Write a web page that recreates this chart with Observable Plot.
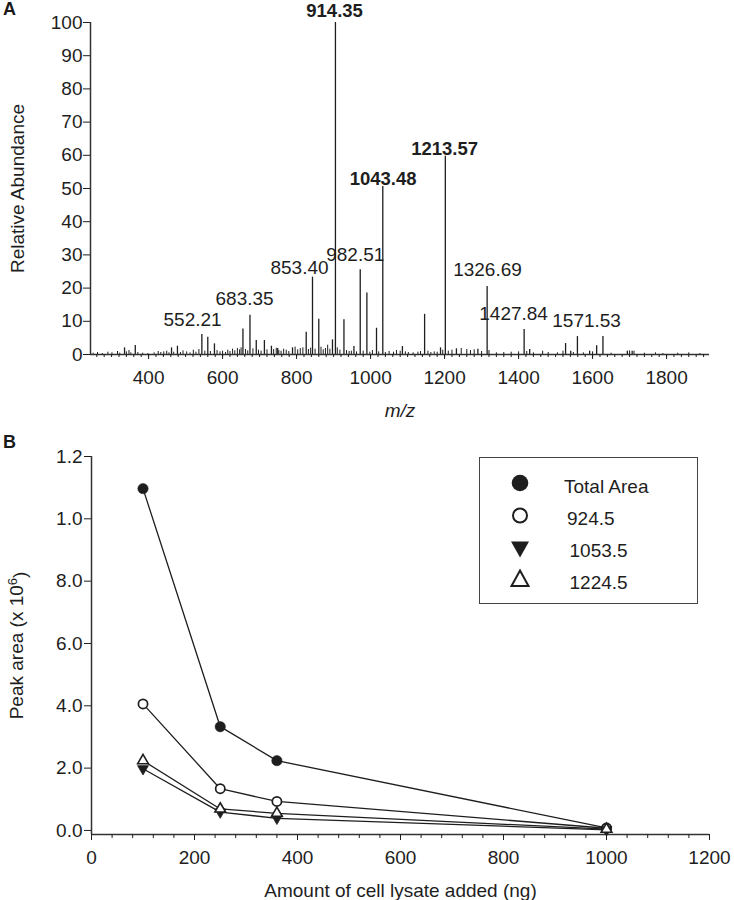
<!DOCTYPE html>
<html>
<head>
<meta charset="utf-8">
<script src="https://cdn.jsdelivr.net/npm/d3@7"></script>
<script src="https://cdn.jsdelivr.net/npm/@observablehq/plot@0.6"></script>
<style>
  body { margin: 0; background: #fff; }
  #wrap { position: relative; width: 734px; height: 900px; font-family: "Liberation Sans", Arial, Helvetica, sans-serif; color: #1a1a1a; overflow: hidden; }
  .tag { position: absolute; font-weight: bold; font-size: 18px; line-height: 1; }
  #legend { position: absolute; left: 479px; top: 457px; width: 219px; height: 147px; box-sizing: border-box; border: 1.5px solid #444; background: #fff; }
  #legend svg { display: block; }
</style>
</head>
<body>
<div id="wrap">
  <div class="tag" style="left:3px;top:0px;">A</div>
  <div class="tag" style="left:3px;top:433px;">B</div>
  <div id="legend"></div>
</div>
<script>
// ---------- Panel A: mass spectrum ----------
const peakMz = [335, 364, 462, 478, 544, 560, 578, 655, 674, 691, 713, 732, 749, 789, 826, 843, 860, 897, 905, 928, 955, 972, 990, 1016, 1033, 1086, 1146, 1189, 1202, 1232, 1290, 1315, 1415, 1430, 1527, 1541, 1559, 1592, 1611, 1628, 1694, 1707];
const peakAbundance = [2.0, 2.7, 2.0, 2.5, 6.0, 5.2, 3.2, 7.7, 11.8, 4.2, 4.2, 2.5, 1.8, 2.0, 6.7, 23.3, 10.6, 4.4, 100, 10.5, 2.4, 25.5, 18.5, 7.9, 50.6, 2.4, 12.1, 2.0, 59.7, 1.7, 1.6, 20.5, 7.5, 1.5, 3.3, 1.0, 5.4, 1.0, 2.6, 5.4, 1.0, 1.0];

const noiseMz = [250, 262, 275, 290, 301, 316, 322, 340, 347, 352, 371, 384, 398, 415, 426, 433, 441, 449, 455, 468, 486, 493, 503, 512, 521, 528, 536, 552, 567, 585, 593, 600, 608, 614, 620, 627, 633, 640, 646, 650, 662, 668, 682, 697, 704, 720, 738, 745, 752, 758, 765, 772, 779, 796, 803, 810, 817, 832, 838, 850, 866, 872, 878, 884, 890, 910, 917, 935, 942, 948, 962, 980, 998, 1005, 1022, 1040, 1050, 1062, 1070, 1080, 1094, 1102, 1115, 1128, 1135, 1155, 1163, 1172, 1180, 1195, 1210, 1220, 1245, 1260, 1270, 1280, 1300, 1320, 1340, 1360, 1380, 1400, 1422, 1440, 1465, 1480, 1505, 1520, 1548, 1575, 1600, 1650, 1700, 1712, 1740, 1770, 1790, 1830, 1860, 1890];
const noiseAbundance = [0.4, 0.6, 0.3, 0.7, 0.5, 0.9, 0.4, 0.8, 1.2, 0.5, 0.6, 0.4, 0.3, 0.5, 0.9, 0.6, 0.8, 1.0, 0.5, 0.7, 0.6, 1.1, 0.8, 0.5, 1.3, 0.7, 1.5, 1.0, 0.9, 1.2, 0.8, 1.0, 0.6, 1.3, 0.9, 1.6, 1.1, 1.8, 1.4, 2.0, 1.5, 1.1, 1.7, 1.3, 1.0, 1.4, 1.5, 1.9, 1.2, 1.0, 1.6, 1.3, 0.9, 2.2, 1.4, 1.8, 2.0, 1.5, 1.9, 1.6, 2.2, 1.4, 1.8, 2.8, 1.6, 2.0, 1.3, 1.2, 0.9, 1.0, 0.8, 1.0, 0.7, 1.2, 0.8, 0.6, 0.9, 0.7, 1.2, 1.0, 0.8, 0.6, 0.5, 0.7, 0.9, 1.0, 0.6, 0.8, 0.7, 1.3, 1.0, 1.3, 1.8, 1.5, 1.2, 1.4, 0.9, 1.2, 0.5, 0.6, 0.7, 0.8, 0.9, 0.5, 1.0, 0.6, 0.5, 1.0, 0.6, 0.5, 0.8, 0.4, 1.1, 1.0, 0.4, 0.5, 0.3, 0.4, 0.5, 0.3];

const boldLabelText = ["914.35", "1043.48", "1213.57"];
const boldLabelMz = [902.7, 1033.8, 1200];
const boldLabelAbundance = [101.6, 50.95, 60.0];

const labelText = ["552.21", "683.35", "853.40", "982.51", "1326.69", "1427.84", "1571.53"];
const labelMz = [519, 659.5, 808, 958.6, 1316, 1386.5, 1583.8];
const labelAbundance = [8.7, 14.8, 24.3, 28.3, 23.5, 10.5, 8.4];

const mzTicks = [400, 600, 800, 1000, 1200, 1400, 1600, 1800];
const mzMinorTicks = d3.range(260, 1901, 20);
const abundanceTicks = [0, 10, 20, 30, 40, 50, 60, 70, 80, 90, 100];
const mzDomain = [243, 1916];

// ---------- Panel B: peak area vs lysate ----------
const lysateAmount = [100, 250, 360, 1000];
const seriesNames = ["Total Area", "924.5", "1053.5", "1224.5"];
const totalArea = [10.97, 3.33, 2.24, 0.08];
const area924 = [4.06, 1.34, 0.93, 0.07];
const area1053 = [1.98, 0.59, 0.39, 0.02];
const area1224 = [2.24, 0.69, 0.55, 0.04];
const peakAreaTicks = [0, 2, 4, 6, 8, 10, 12];
const peakAreaTickLabels = ["0.0", "2.0", "4.0", "6.0", "8.0", "1.0", "1.2"];
const lysateTicks = [0, 200, 400, 600, 800, 1000, 1200];
const lysateMinorTicks = [40, 80, 120, 160, 240, 280, 320, 360, 440, 480, 520, 560, 640, 680, 720, 760, 840, 880, 920, 960, 1040, 1080, 1120, 1160];
const yDomainB = [-0.13, 12];

// ---------- tables ----------
const peaks = peakMz.map((mz, i) => ({mz, ab: peakAbundance[i]}));
const noise = noiseMz.map((mz, i) => ({mz, ab: noiseAbundance[i]}));
const boldLabels = boldLabelText.map((t, i) => ({t, mz: boldLabelMz[i], ab: boldLabelAbundance[i]}));
const labels = labelText.map((t, i) => ({t, mz: labelMz[i], ab: labelAbundance[i]}));

const seriesValues = [totalArea, area924, area1053, area1224];
const rows = seriesNames.flatMap((s, k) => lysateAmount.map((x, i) => ({series: s, x, y: seriesValues[k][i]})));
const bySeries = s => rows.filter(r => r.series === s);

const triangleDown = {
  draw(ctx, size) {
    const y = -Math.sqrt(size / (Math.sqrt(3) * 3));
    ctx.moveTo(0, -y * 2);
    ctx.lineTo(-Math.sqrt(3) * y, y);
    ctx.lineTo(Math.sqrt(3) * y, y);
    ctx.closePath();
  }
};

const FONT = "'Liberation Sans', Arial, Helvetica, sans-serif";
const INK = "#1e1e1e";

const chartA = Plot.plot({
  width: 734, height: 420,
  marginTop: 22, marginRight: 25, marginBottom: 66, marginLeft: 90,
  style: {fontFamily: FONT, fontSize: "19px", color: INK, background: "#fff", overflow: "visible"},
  x: {domain: mzDomain},
  y: {domain: [0, 100]},
  marks: [
    Plot.ruleX(noise, {x: "mz", y1: 0, y2: "ab", stroke: INK, strokeWidth: 1}),
    Plot.ruleX(peaks, {x: "mz", y1: 0, y2: "ab", stroke: INK, strokeWidth: 1.3}),
    Plot.ruleY([0], {stroke: "#333", strokeWidth: 1.5}),
    Plot.ruleX([mzDomain[0]], {y1: 0, y2: 100, stroke: "#333", strokeWidth: 1.5}),
    Plot.axisX({ticks: mzMinorTicks, tickSize: 3, tickFormat: () => "", label: null}),
    Plot.axisX({ticks: mzTicks, tickSize: 5, tickPadding: 11, tickFormat: d => String(d), label: "m/z", labelAnchor: "center", labelOffset: 62, labelArrow: "none"}),
    Plot.axisY({ticks: abundanceTicks, tickSize: 7, tickPadding: 1, tickFormat: d => String(d), label: "Relative Abundance", labelAnchor: "center", labelOffset: 80, labelArrow: "none"}),
    Plot.text(boldLabels, {x: "mz", y: "ab", text: "t", fontWeight: "bold", fontSize: 18.5, lineAnchor: "bottom", fill: INK}),
    Plot.text(labels, {x: "mz", y: "ab", text: "t", lineAnchor: "bottom", fill: INK})
  ]
});

const chartB = Plot.plot({
  width: 734, height: 480,
  marginTop: 36, marginRight: 25, marginBottom: 66, marginLeft: 91,
  style: {fontFamily: FONT, fontSize: "19px", color: INK, background: "#fff", overflow: "visible"},
  x: {domain: [0, 1200]},
  y: {domain: yDomainB},
  marks: [
    Plot.ruleY([yDomainB[0]], {stroke: "#333", strokeWidth: 1.5}),
    Plot.ruleX([0], {y1: yDomainB[0], y2: 12, stroke: "#333", strokeWidth: 1.5}),
    Plot.axisX({ticks: lysateMinorTicks, tickSize: 4, tickFormat: () => "", label: null}),
    Plot.axisX({ticks: lysateTicks, tickSize: 6, tickPadding: 10, tickFormat: d => String(d), label: "Amount of cell lysate added (ng)", labelAnchor: "center", labelOffset: 62, labelArrow: "none"}),
    Plot.axisY({ticks: peakAreaTicks, tickSize: 7, tickPadding: 2, tickFormat: d => peakAreaTickLabels[peakAreaTicks.indexOf(d)], label: "Peak area (x 10^6)", labelAnchor: "center", labelOffset: 82, labelArrow: "none"}),
    Plot.line(rows, {x: "x", y: "y", z: "series", stroke: INK, strokeWidth: 1.3}),
    Plot.dot(bySeries("Total Area"), {x: "x", y: "y", r: 5.2, symbol: "circle", fill: INK, stroke: INK, strokeWidth: 0.5}),
    Plot.dot(bySeries("924.5"), {x: "x", y: "y", r: 4.6, symbol: "circle", fill: "#fff", stroke: INK, strokeWidth: 1.7}),
    Plot.dot(bySeries("1053.5"), {x: "x", y: "y", r: 4, symbol: triangleDown, fill: INK, stroke: INK, strokeWidth: 0.8}),
    Plot.dot(bySeries("1224.5"), {x: "x", y: "y", r: 4, symbol: "triangle", fill: "#fff", stroke: INK, strokeWidth: 1.6})
  ]
});

const wrap = document.getElementById("wrap");
wrap.insertBefore(chartB, wrap.firstChild);
wrap.insertBefore(chartA, wrap.firstChild);

// italic m/z label
d3.select(chartA).selectAll("text").filter(function () { return this.textContent === "m/z"; })
  .style("font-style", "italic");

// superscript in y label of B
d3.select(chartB).selectAll("text").filter(function () { return this.textContent === "Peak area (x 10^6)"; })
  .each(function () {
    const t = d3.select(this);
    t.text(null);
    t.append("tspan").text("Peak area (x 10");
    t.append("tspan").attr("dy", "-0.45em").style("font-size", "13px").text("6");
    t.append("tspan").attr("dy", "0.45em").text(")");
  });

// legend
const lg = d3.select("#legend").append("svg").attr("width", 216).attr("height", 144)
  .style("font-family", FONT).style("font-size", "19px");
const legendItems = [
  {name: seriesNames[0], cy: 25, tx: 84, ty: 28},
  {name: seriesNames[1], cy: 57.5, tx: 87, ty: 60.5},
  {name: seriesNames[2], cy: 91, tx: 89.5, ty: 92},
  {name: seriesNames[3], cy: 120.5, tx: 89.5, ty: 124.5}
];
const sym = [
  g => g.append("circle").attr("r", 8.3).attr("fill", INK),
  g => g.append("circle").attr("r", 7).attr("fill", "#fff").attr("stroke", INK).attr("stroke-width", 2),
  g => g.append("path").attr("d", "M-9,-7.5L9,-7.5L0,8.5Z").attr("fill", INK),
  g => g.append("path").attr("d", "M0,-8L8.5,7.5L-8.5,7.5Z").attr("fill", "#fff").attr("stroke", INK).attr("stroke-width", 2)
];
legendItems.forEach((d, i) => {
  const g = lg.append("g").attr("transform", `translate(40,${d.cy})`);
  sym[i](g);
  lg.append("text").attr("x", d.tx).attr("y", d.ty).attr("dy", "0.35em").attr("fill", INK).text(d.name);
});
</script>
</body>
</html>
